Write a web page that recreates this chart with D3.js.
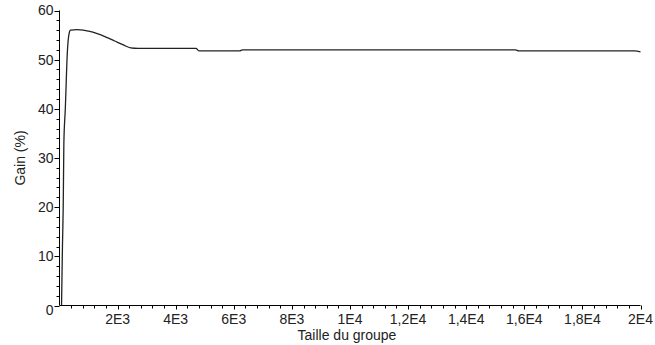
<!DOCTYPE html>
<html>
<head>
<meta charset="utf-8">
<script src="https://cdn.jsdelivr.net/npm/d3@7"></script>
<style>
  html, body { margin: 0; padding: 0; background: #fff; }
  svg { display: block; }
  text { font-family: "Liberation Sans", Arial, sans-serif; fill: #222; }
</style>
</head>
<body>
<svg id="chart" width="655" height="345"></svg>
<script>
// Group size (x) and gain in percent (y)
const groupSize = [70, 100, 130, 150, 200, 270, 330, 380, 600, 820, 1000, 1300, 1600, 1900, 2200, 2450, 2700, 3000, 4700, 4800, 6200, 6300, 15700, 15800, 19800, 20000];
const gain      = [0, 11.5, 21, 33, 40, 51.5, 55.3, 56, 56.1, 56, 55.8, 55.3, 54.6, 53.8, 53.0, 52.4, 52.3, 52.3, 52.3, 51.8, 51.8, 52.0, 52.0, 51.8, 51.8, 51.6];

const xMajorTicks = [2000, 4000, 6000, 8000, 10000, 12000, 14000, 16000, 18000, 20000];
const xTickLabels = ["2E3", "4E3", "6E3", "8E3", "1E4", "1,2E4", "1,4E4", "1,6E4", "1,8E4", "2E4"];
const yMajorTicks = [0, 10, 20, 30, 40, 50, 60];

const xTitle = "Taille du groupe";
const yTitle = "Gain (%)";

const svg = d3.select("#chart");
const plotLeft = 59.5, plotRight = 640.5, plotTop = 10.5, plotBottom = 305.5;

const x = d3.scaleLinear().domain([0, 20000]).range([plotLeft, plotRight]);
const y = d3.scaleLinear().domain([0, 60]).range([plotBottom, plotTop]);

// minor ticks
const xMinor = d3.range(0, 20001, 400).filter(v => v % 2000 !== 0);
const yMinor = d3.range(0, 61, 2).filter(v => v % 10 !== 0);

const g = svg.append("g");

// x axis
const xAxisG = g.append("g").attr("transform", `translate(0,${plotBottom})`);
xAxisG.append("line").attr("x1", plotLeft).attr("x2", plotRight).attr("stroke", "#000");
xAxisG.selectAll("line.minor").data(xMinor).join("line")
  .attr("class", "minor")
  .attr("x1", d => Math.round(x(d)) + 0.5).attr("x2", d => Math.round(x(d)) + 0.5)
  .attr("y1", 0).attr("y2", 3).attr("stroke", "#000");
xAxisG.selectAll("line.major").data(xMajorTicks).join("line")
  .attr("class", "major")
  .attr("x1", d => Math.round(x(d)) + 0.5).attr("x2", d => Math.round(x(d)) + 0.5)
  .attr("y1", 0).attr("y2", 4).attr("stroke", "#000");
xAxisG.selectAll("text").data(xMajorTicks).join("text")
  .attr("x", d => x(d)).attr("y", 18)
  .attr("text-anchor", "middle")
  .style("font-size", "14px")
  .text((d, i) => xTickLabels[i]);

// y axis
const yAxisG = g.append("g").attr("transform", `translate(${plotLeft},0)`);
yAxisG.append("line").attr("y1", plotTop).attr("y2", plotBottom).attr("stroke", "#000");
yAxisG.selectAll("line.minor").data(yMinor).join("line")
  .attr("class", "minor")
  .attr("y1", d => Math.round(y(d)) + 0.5).attr("y2", d => Math.round(y(d)) + 0.5)
  .attr("x1", -3).attr("x2", 0).attr("stroke", "#000");
yAxisG.selectAll("line.major").data(yMajorTicks).join("line")
  .attr("class", "major")
  .attr("y1", d => Math.round(y(d)) + 0.5).attr("y2", d => Math.round(y(d)) + 0.5)
  .attr("x1", -5).attr("x2", 0).attr("stroke", "#000");
yAxisG.selectAll("text").data(yMajorTicks).join("text")
  .attr("x", -6)
  .attr("y", d => y(d) + (d === 0 ? 5 : 0))
  .attr("dy", "0.35em")
  .attr("text-anchor", "end")
  .style("font-size", "14px")
  .text(d => d);

// titles
svg.append("text")
  .attr("x", 347).attr("y", 340)
  .attr("text-anchor", "middle")
  .style("font-size", "14px")
  .text(xTitle);
svg.append("text")
  .attr("transform", `translate(25,${(plotTop + plotBottom) / 2}) rotate(-90)`)
  .attr("text-anchor", "middle")
  .style("font-size", "14px")
  .text(yTitle);

// curve
const pts = groupSize.map((v, i) => [v, gain[i]]);
const line = d3.line()
  .x(d => x(d[0]))
  .y(d => y(d[1]))
  .curve(d3.curveMonotoneX);
svg.append("path")
  .datum(pts)
  .attr("d", line)
  .attr("fill", "none")
  .attr("stroke", "#222")
  .attr("stroke-width", 1.3);
</script>
</body>
</html>
